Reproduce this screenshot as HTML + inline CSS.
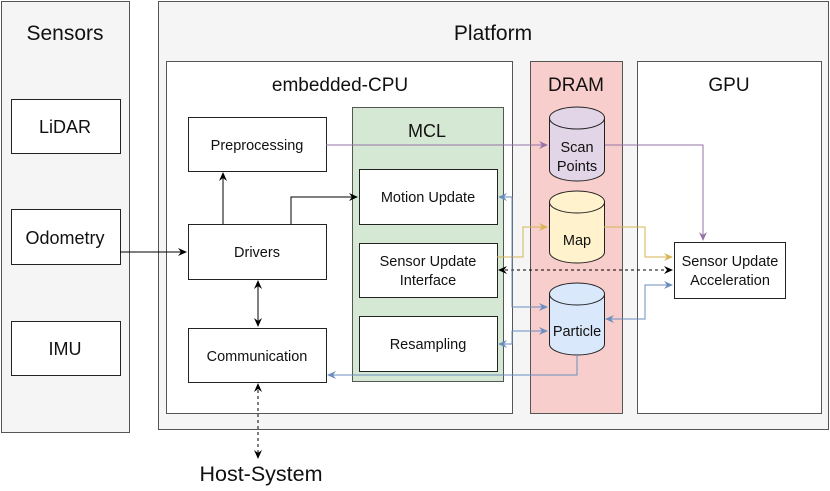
<!DOCTYPE html>
<html><head><meta charset="utf-8"><style>
html,body{margin:0;padding:0;background:#fff}
svg{display:block}
text{font-family:"Liberation Sans",Arial,sans-serif;fill:#111}
</style></head><body>
<svg width="830" height="491" viewBox="0 0 830 491" xmlns="http://www.w3.org/2000/svg">
<defs>
<marker id="ak" markerWidth="10" markerHeight="10" refX="8" refY="5" orient="auto-start-reverse" markerUnits="userSpaceOnUse"><path d="M0,1 L9,5 L0,9 L3,5 Z" fill="#000"/></marker>
<marker id="ap" markerWidth="10" markerHeight="10" refX="8" refY="5" orient="auto-start-reverse" markerUnits="userSpaceOnUse"><path d="M0,1 L9,5 L0,9 L3,5 Z" fill="#9673a6"/></marker>
<marker id="ay" markerWidth="10" markerHeight="10" refX="8" refY="5" orient="auto-start-reverse" markerUnits="userSpaceOnUse"><path d="M0,1 L9,5 L0,9 L3,5 Z" fill="#d6b656"/></marker>
<marker id="ab" markerWidth="10" markerHeight="10" refX="8" refY="5" orient="auto-start-reverse" markerUnits="userSpaceOnUse"><path d="M0,1 L9,5 L0,9 L3,5 Z" fill="#6c8ebf"/></marker>
</defs>
<g stroke="#555" stroke-width="1">
<rect x="1.5" y="1.5" width="128" height="431" fill="#f5f5f5"/>
<rect x="158.5" y="1.5" width="670" height="428" fill="#f5f5f5"/>
<rect x="166.5" y="61.5" width="346" height="352" fill="#fff"/>
<rect x="530.5" y="61.5" width="92" height="352" fill="#f8cecc"/>
<rect x="637.5" y="61.5" width="184" height="352" fill="#fff"/>
<rect x="352.5" y="107.5" width="151" height="274" fill="#d5e8d4"/>
</g>
<g stroke="#222" stroke-width="1" fill="#fff">
<rect x="11.5" y="99.5" width="109" height="54"/>
<rect x="11.5" y="209.5" width="109" height="55"/>
<rect x="11.5" y="321.5" width="109" height="54"/>
<rect x="188.5" y="117.5" width="138" height="54"/>
<rect x="188.5" y="224.5" width="138" height="55"/>
<rect x="188.5" y="328.5" width="138" height="54"/>
<rect x="359.5" y="169.5" width="138" height="55"/>
<rect x="359.5" y="243.5" width="138" height="54"/>
<rect x="359.5" y="316.5" width="138" height="55"/>
<rect x="674.5" y="242.5" width="111" height="56"/>
</g>
<g stroke="#222" stroke-width="1">
<path d="M549.5,118 L549.5,170 A27.5,11 0 0 0 604.5,170 L604.5,118" fill="#e1d5e7"/>
<ellipse cx="577" cy="118" rx="27.5" ry="11" fill="#e1d5e7"/>
<path d="M549.5,202 L549.5,252 A27.5,11 0 0 0 604.5,252 L604.5,202" fill="#fff2cc"/>
<ellipse cx="577" cy="202" rx="27.5" ry="11" fill="#fff2cc"/>
<path d="M549.5,294 L549.5,344 A27.5,11 0 0 0 604.5,344 L604.5,294" fill="#dae8fc"/>
<ellipse cx="577" cy="294" rx="27.5" ry="11" fill="#dae8fc"/>
</g>
<g fill="none" stroke-width="1">
<path d="M326,145 H547" stroke="#9673a6" marker-end="url(#ap)"/>
<path d="M605,145 H703 V240" stroke="#9673a6" marker-end="url(#ap)"/>
<path d="M120,252 H186" stroke="#000" marker-end="url(#ak)"/>
<path d="M223,224 V173" stroke="#000" marker-end="url(#ak)"/>
<path d="M291,224 V197 H357" stroke="#000" marker-end="url(#ak)"/>
<path d="M258,281 V326" stroke="#000" marker-start="url(#ak)" marker-end="url(#ak)"/>
<path d="M258,384 V458" stroke="#000" stroke-dasharray="3,3" marker-start="url(#ak)" marker-end="url(#ak)"/>
<path d="M497,257 H523 V227 H547" stroke="#d6b656" marker-end="url(#ay)"/>
<path d="M604,227 H645 V257 H672" stroke="#d6b656" marker-end="url(#ay)"/>
<path d="M499,270 H672" stroke="#000" stroke-dasharray="3,3" marker-start="url(#ak)" marker-end="url(#ak)"/>
<path d="M499,197 H512 V307 H547" stroke="#6c8ebf" marker-start="url(#ab)" marker-end="url(#ab)"/>
<path d="M499,344 H512 V331 H547" stroke="#6c8ebf" marker-start="url(#ab)" marker-end="url(#ab)"/>
<path d="M606,319 H645 V285 H672" stroke="#6c8ebf" marker-start="url(#ab)" marker-end="url(#ab)"/>
<path d="M577,355 V375 H328" stroke="#6c8ebf" marker-end="url(#ab)"/>
</g>
<g text-anchor="middle">
<text x="65" y="40" font-size="21">Sensors</text>
<text x="493" y="40" font-size="21">Platform</text>
<text x="340" y="91" font-size="19">embedded-CPU</text>
<text x="576" y="91" font-size="19">DRAM</text>
<text x="729" y="91" font-size="19">GPU</text>
<text x="427" y="137" font-size="18">MCL</text>
<text x="65" y="133" font-size="18">LiDAR</text>
<text x="65" y="244" font-size="18">Odometry</text>
<text x="65" y="355" font-size="18">IMU</text>
<text x="257" y="150" font-size="14.5">Preprocessing</text>
<text x="257" y="257" font-size="14.5">Drivers</text>
<text x="257" y="361" font-size="14.5">Communication</text>
<text x="428" y="202" font-size="14.5">Motion Update</text>
<text x="428" y="266" font-size="14.5">Sensor Update</text>
<text x="428" y="285" font-size="14.5">Interface</text>
<text x="428" y="349" font-size="14.5">Resampling</text>
<text x="577" y="152" font-size="14.5">Scan</text>
<text x="577" y="171" font-size="14.5">Points</text>
<text x="577" y="245" font-size="14.5">Map</text>
<text x="577" y="336" font-size="14.5">Particle</text>
<text x="730" y="266" font-size="14.5">Sensor Update</text>
<text x="730" y="285" font-size="14.5">Acceleration</text>
<text x="261" y="481" font-size="21.5">Host-System</text>
</g>
</svg>
</body></html>
